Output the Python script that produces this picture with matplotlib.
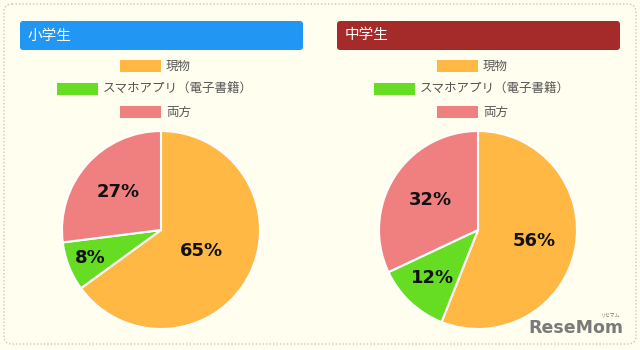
import matplotlib
matplotlib.use("Agg")
import matplotlib.pyplot as plt
from matplotlib.patches import FancyBboxPatch, Rectangle
import numpy as np

# data
categories = ["現物", "スマホアプリ（電子書籍）", "両方"]
titles = ["小学生", "中学生"]
elementary = [65, 8, 27]
junior_high = [56, 12, 32]

colors = ["#FFB844", "#66DD22", "#F08080"]
header_colors = ["#2196F3", "#A52A2A"]
bg = "#FFFEEF"
jp = ["Noto Sans CJK JP", "DejaVu Sans"]

# label distance (fraction of radius) per slice, as placed in the original
label_dist = [[0.46, 0.77, 0.58], [0.58, 0.67, 0.57]]

fig = plt.figure(figsize=(6.4, 3.5), dpi=100)
fig.patch.set_facecolor(bg)

# background layer in pixel coords
bgax = fig.add_axes([0, 0, 1, 1])
bgax.set_xlim(0, 640)
bgax.set_ylim(350, 0)
bgax.axis("off")

bgax.add_patch(FancyBboxPatch((4, 4), 632, 340, boxstyle="round,pad=0,rounding_size=8",
                              fc="none", ec="#C8C8B8", lw=1.0, ls=(0, (1, 1.5))))

panel_x = [20, 337]
pie_cx = [161, 478]
R = 99
pie_cy = 230
# swatch left edge relative to the pie centre (short rows / long row)
sw_off = [-41, -104, -41]

for i, (title, vals) in enumerate(zip(titles, [elementary, junior_high])):
    # header bar
    bgax.add_patch(FancyBboxPatch((panel_x[i], 21), 283, 29, boxstyle="round,pad=0,rounding_size=3",
                                  fc=header_colors[i], ec="none"))
    bgax.text(panel_x[i] + 8, 35.5, title, color="white", fontsize=10.5, family=jp,
              va="center", ha="left")

    # legend rows, each centred on the pie
    for j, cat in enumerate(categories):
        y = 66 + j * 23
        x0 = pie_cx[i] + sw_off[j]
        bgax.add_patch(Rectangle((x0, y - 6), 41, 12, fc=colors[j], ec="none"))
        bgax.text(x0 + 46, y, cat, fontsize=9, family=jp, color="#555555",
                  va="center", ha="left")

    # pie
    ax = fig.add_axes([(pie_cx[i] - R) / 640, (350 - pie_cy - R) / 350, 2 * R / 640, 2 * R / 350])
    wedges, _ = ax.pie(vals, colors=colors, startangle=90, counterclock=False,
                       wedgeprops=dict(edgecolor="white", linewidth=1.5))
    ax.set_xlim(-1, 1)
    ax.set_ylim(-1, 1)
    ax.set_aspect("auto")
    ax.axis("off")
    for w, v, d in zip(wedges, vals, label_dist[i]):
        ang = np.deg2rad((w.theta1 + w.theta2) / 2)
        ax.text(d * np.cos(ang), d * np.sin(ang), f"{v}%", ha="center", va="center",
                fontsize=13, fontweight="bold", color="#111111")

# logo (figure text so it sits above the pies)
fig.text(623 / 640, 1 - 328 / 350, "ReseMom", ha="right", va="center", fontsize=12.5,
         fontweight="bold", color="#7A7A7A", zorder=10)
fig.text(611 / 640, 1 - 315 / 350, "リセマム", ha="center", va="center", fontsize=3.5,
         color="#7A7A7A", family=jp, zorder=10)

fig.savefig("out.png", dpi=100, facecolor=bg)
